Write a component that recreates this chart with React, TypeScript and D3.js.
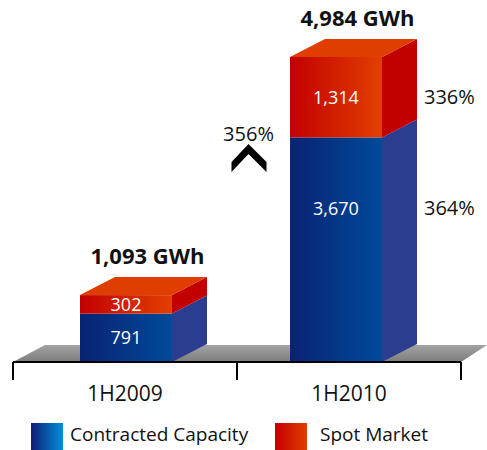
import React from "react";
import * as d3 from "d3";

// Half-year periods and generation split (GWh)
const periods = ["1H2009", "1H2010"];
const contracted = [791, 3670];
const spot = [302, 1314];
const totals = ["1,093 GWh", "4,984 GWh"];
const seriesNames = ["Contracted Capacity", "Spot Market"];
const growthContracted = "364%";
const growthSpot = "336%";
const growthTotal = "356%";

const W = 487;
const H = 450;
const FONT = "'Open Sans', 'Noto Sans', sans-serif";

// 3D extrusion offsets
const DX = 35;
const DY = 18;

export default function App() {
  const baseY = 362;
  const maxTotal = d3.max(contracted.map((c, i) => c + spot[i])) as number;
  const y = d3.scaleLinear().domain([0, maxTotal]).range([baseY, 57]);

  // category axis spans the floor front edge
  const axisX = d3.scaleBand<string>().domain(periods).range([13, 461]).padding(0);
  // bars inside each band
  const barX = d3.scaleBand<string>().domain(periods).range([80, 382]).paddingInner(0.562).paddingOuter(0);
  const bw = barX.bandwidth();
  const fmt = d3.format(",");

  const bars = periods.map((p, i) => {
    const x0 = barX(p) as number;
    const x1 = x0 + bw;
    const yBlue = y(contracted[i]);
    const yTop = y(contracted[i] + spot[i]);
    return { p, i, x0, x1, yBlue, yTop };
  });

  const tickXs = [axisX(periods[0]) as number, axisX(periods[1]) as number, (axisX(periods[1]) as number) + axisX.bandwidth()];

  const b2 = bars[1];
  const b1 = bars[0];
  const midGapX = (b1.x1 + DX + b2.x0) / 2;
  const chevTop = y(maxTotal) + 87;
  const blueLabelY = (b: typeof b1) => b.yBlue + Math.min((baseY - b.yBlue) / 2, 72) + 6;
  const redLabelY = (b: typeof b1) => b.yTop + (b.yBlue - b.yTop) / 2 + 7;

  return (
    <svg width={W} height={H} style={{ position: "absolute", left: 0, top: 0 }} fontFamily={FONT}>
      <defs>
        <linearGradient id="blueFront" x1="0" x2="1" y1="0" y2="0">
          <stop offset="0" stopColor="#0a2273" />
          <stop offset="1" stopColor="#004a99" />
        </linearGradient>
        <linearGradient id="redFront" x1="0" x2="1" y1="0" y2="0">
          <stop offset="0" stopColor="#c30000" />
          <stop offset="1" stopColor="#e23f00" />
        </linearGradient>
        <linearGradient id="floor" x1="0" x2="0" y1="0" y2="1">
          <stop offset="0" stopColor="#a3a3a3" />
          <stop offset="1" stopColor="#7d7d7d" />
        </linearGradient>
        <linearGradient id="legBlue" x1="0" x2="1" y1="0" y2="0">
          <stop offset="0" stopColor="#101c78" />
          <stop offset="1" stopColor="#0090da" />
        </linearGradient>
        <linearGradient id="legRed" x1="0" x2="1" y1="0" y2="0">
          <stop offset="0" stopColor="#c40000" />
          <stop offset="1" stopColor="#e23c00" />
        </linearGradient>
      </defs>
      <rect width={W} height={H} fill="#fff" />

      {/* floor */}
      <polygon
        points={`${tickXs[0]},${baseY} ${tickXs[0] + 32},${baseY - 17} ${tickXs[2] + 26},${baseY - 17} ${tickXs[2]},${baseY}`}
        fill="url(#floor)"
      />

      {/* bars */}
      {bars.map((b) => (
        <g key={b.p}>
          {/* side faces */}
          <polygon
            points={`${b.x1},${baseY} ${b.x1 + DX},${baseY - DY} ${b.x1 + DX},${b.yBlue - DY} ${b.x1},${b.yBlue}`}
            fill="#2a3d8f"
          />
          <polygon
            points={`${b.x1},${b.yBlue} ${b.x1 + DX},${b.yBlue - DY} ${b.x1 + DX},${b.yTop - DY} ${b.x1},${b.yTop}`}
            fill="#c20000"
          />
          {/* top face */}
          <polygon
            points={`${b.x0},${b.yTop} ${b.x0 + DX},${b.yTop - DY} ${b.x1 + DX},${b.yTop - DY} ${b.x1},${b.yTop}`}
            fill="#e03d00"
          />
          {/* front faces */}
          <rect x={b.x0} y={b.yBlue} width={bw} height={baseY - b.yBlue} fill="url(#blueFront)" />
          <rect x={b.x0} y={b.yTop} width={bw} height={b.yBlue - b.yTop} fill="url(#redFront)" />

          {/* segment values */}
          <text x={b.x0 + bw / 2} y={blueLabelY(b)} textAnchor="middle" fill="#fff" fontSize={18}>
            {fmt(contracted[b.i])}
          </text>
          <text x={b.x0 + bw / 2} y={redLabelY(b)} textAnchor="middle" fill="#fff" fontSize={18}>
            {fmt(spot[b.i])}
          </text>

          {/* total */}
          <text
            x={b.x0 + bw / 2 + DX / 2 + 4}
            y={b.yTop - DY - 13}
            textAnchor="middle"
            fill="#111"
            fontSize={22}
            fontWeight="bold"
          >
            {totals[b.i]}
          </text>
        </g>
      ))}

      {/* growth labels */}
      <text x={b2.x1 + DX + 7} y={blueLabelY(b2)} fill="#111" fontSize={20}>
        {growthContracted}
      </text>
      <text x={b2.x1 + DX + 7} y={redLabelY(b2)} fill="#111" fontSize={20}>
        {growthSpot}
      </text>
      <text x={midGapX} y={chevTop - 3} textAnchor="middle" fill="#111" fontSize={20}>
        {growthTotal}
      </text>
      <polygon
        points={[
          [0, 0],
          [18, 18],
          [18, 28],
          [0, 10],
          [-17, 28],
          [-17, 18],
        ]
          .map(([dx, dy]) => `${midGapX + dx},${chevTop + dy}`)
          .join(" ")}
        fill="#000"
      />

      {/* axis */}
      <line x1={tickXs[0]} x2={tickXs[2]} y1={baseY} y2={baseY} stroke="#000" strokeWidth={2} />
      {tickXs.map((tx, k) => (
        <line key={k} x1={tx} x2={tx} y1={baseY} y2={baseY + 18} stroke="#000" strokeWidth={2} />
      ))}
      {periods.map((p) => (
        <text
          key={p}
          x={(axisX(p) as number) + axisX.bandwidth() / 2}
          y={401}
          textAnchor="middle"
          fill="#111"
          fontSize={21}
        >
          {p}
        </text>
      ))}

      {/* legend */}
      <rect x={31} y={423} width={32} height={28} fill="url(#legBlue)" />
      <text x={70} y={441} fill="#111" fontSize={19}>
        {seriesNames[0]}
      </text>
      <rect x={275} y={423} width={32} height={28} fill="url(#legRed)" />
      <text x={320} y={441} fill="#111" fontSize={19}>
        {seriesNames[1]}
      </text>
    </svg>
  );
}
